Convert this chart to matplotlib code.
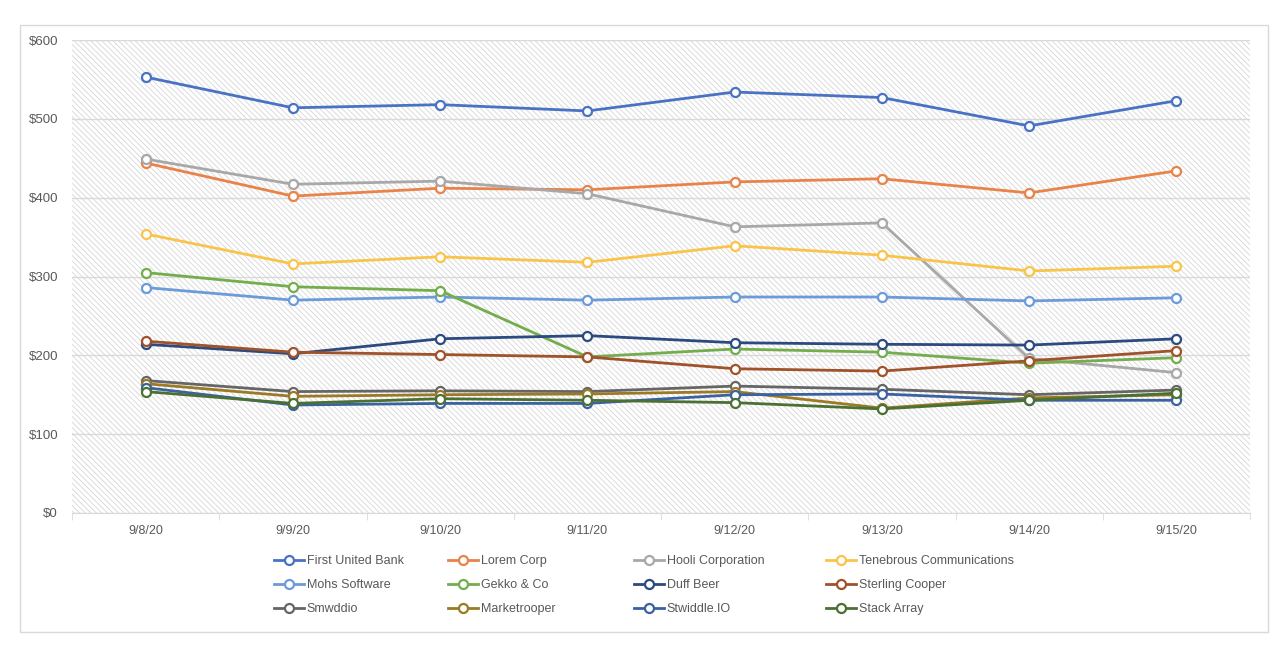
import matplotlib.pyplot as plt
from matplotlib.patches import Rectangle
from matplotlib.ticker import FuncFormatter, FixedLocator

dates = ["9/8/20", "9/9/20", "9/10/20", "9/11/20", "9/12/20", "9/13/20", "9/14/20", "9/15/20"]

first_united = [553, 514, 518, 510, 534, 527, 491, 523]
lorem_corp = [444, 402, 412, 410, 420, 424, 406, 434]
hooli = [449, 417, 421, 405, 363, 368, 196, 178]
tenebrous = [354, 316, 325, 318, 339, 327, 307, 313]
mohs = [286, 270, 274, 270, 274, 274, 269, 273]
gekko = [305, 287, 282, 198, 208, 204, 190, 197]
duff_beer = [214, 202, 221, 225, 216, 214, 213, 221]
sterling = [218, 204, 201, 198, 183, 180, 193, 206]
smwddio = [168, 154, 155, 154, 161, 157, 150, 156]
marketrooper = [164, 148, 150, 151, 154, 133, 146, 150]
stwiddle = [159, 137, 139, 139, 150, 151, 143, 143]
stack_array = [154, 139, 145, 143, 140, 132, 143, 152]

names = ["First United Bank", "Lorem Corp", "Hooli Corporation", "Tenebrous Communications",
         "Mohs Software", "Gekko & Co", "Duff Beer", "Sterling Cooper",
         "Smwddio", "Marketrooper", "Stwiddle.IO", "Stack Array"]
series = [first_united, lorem_corp, hooli, tenebrous, mohs, gekko,
          duff_beer, sterling, smwddio, marketrooper, stwiddle, stack_array]
colors = ["#4a72c4", "#e8834a", "#a8a8a8", "#f9c44a", "#6b9bd8", "#74ad4d",
          "#2b4a80", "#a0522a", "#666666", "#9c7a25", "#3a62a0", "#4b7033"]

plt.rcParams['font.family'] = ['Liberation Sans', 'DejaVu Sans']
plt.rcParams['hatch.color'] = '#d6d6d6'
plt.rcParams['hatch.linewidth'] = 0.6

fig = plt.figure(figsize=(12.88, 6.62), dpi=100)
ax = fig.add_axes([72/1288, 149/662, 1178/1288, 473/662])

# outer chart border
fig.patches.append(Rectangle((20/1288, 30/662), 1248/1288, 607/662, transform=fig.transFigure,
                             fill=False, edgecolor='#d9d9d9', linewidth=1))

# hatched plot area
ax.add_patch(Rectangle((0, 0), 1, 1, transform=ax.transAxes, facecolor='white',
                       hatch='\\\\\\\\\\\\', edgecolor='#d6d6d6', linewidth=0, zorder=0))

x = list(range(len(dates)))
for name, vals, c in zip(names, series, colors):
    ax.plot(x, vals, color=c, lw=2, marker='o', ms=6.5, mfc='white', mec=c, mew=1.6,
            label=name, zorder=3)

ax.set_xlim(-0.5, len(dates) - 0.5)
ax.set_ylim(0, 600)
ax.set_yticks(range(0, 601, 100))
ax.yaxis.set_major_formatter(FuncFormatter(lambda v, p: "$%d" % v))
ax.grid(axis='y', color='#d9d9d9', lw=1, zorder=1)
ax.set_axisbelow(True)

ax.set_xticks(x)
ax.set_xticklabels(dates)
ax.xaxis.set_minor_locator(FixedLocator([i - 0.5 for i in range(len(dates) + 1)]))
ax.tick_params(axis='x', which='major', length=0, pad=9, labelsize=9, labelcolor='#595959')
ax.tick_params(axis='x', which='minor', length=5, color='#d9d9d9')
ax.tick_params(axis='y', length=0, pad=10, labelsize=9.5, labelcolor='#595959')

for s in ['top', 'right', 'left']:
    ax.spines[s].set_visible(False)
ax.spines['bottom'].set_color('#d9d9d9')

# legend: excel lays it out row by row, one legend per column here
h, l = ax.get_legend_handles_labels()
col_x = [268, 442, 628, 820]
for j, cx in enumerate(col_x):
    idx = [j, j + 4, j + 8]
    fig.legend([h[i] for i in idx], [l[i] for i in idx], loc='center left',
               bbox_to_anchor=(cx/1288, 0.116), frameon=False, borderpad=0,
               fontsize=9, handlelength=2.4, labelspacing=0.95,
               handletextpad=0.2, labelcolor='#595959')

fig.savefig("out.png", dpi=100)
